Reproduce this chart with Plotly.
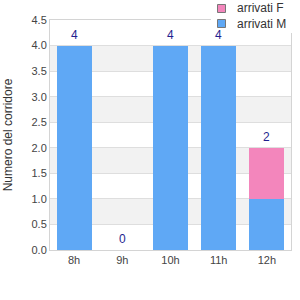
import plotly.graph_objects as go

categories = ["8h", "9h", "10h", "11h", "12h"]
arrivati_M = [4, 0, 4, 4, 1]
arrivati_F = [0, 0, 0, 0, 1]
totals = [m + f for m, f in zip(arrivati_M, arrivati_F)]
series_names = ["arrivati F", "arrivati M"]

blue = "#5fa8f5"
pink = "#f386bc"
series_colors = [pink, blue]
FONT = "Liberation Sans, Arial, sans-serif"

W, H = 300, 300
ML, MR, MT, MB = 50, 9, 20, 50
PW, PH = W - ML - MR, H - MT - MB


def px_x(p):
    return (p - ML) / PW


def px_y(p):
    return (H - MB - p) / PH


fig = go.Figure()
fig.add_trace(go.Bar(x=categories, y=arrivati_M, name="arrivati M", marker_color=blue,
                     marker_line_width=0, showlegend=False))
fig.add_trace(go.Bar(x=categories, y=arrivati_F, name="arrivati F", marker_color=pink,
                     marker_line_width=0, showlegend=False))

annotations = [dict(x=c, y=t, xref="x", yref="y", text=str(t), showarrow=False,
                    yanchor="bottom", yshift=2,
                    font=dict(family=FONT, size=12, color="#1f1f8f"))
               for c, t in zip(categories, totals)]

ymax = 4.5
step = 0.5
shapes = []
k = 0
v = 0.0
while v < ymax - 1e-9:
    if k % 2 == 1:
        shapes.append(dict(type="rect", xref="paper", yref="y", x0=0, x1=1, y0=v, y1=v + step,
                           fillcolor="#f2f2f2", line_width=0, layer="below"))
    v += step
    k += 1

# manual legend (white background box, swatches, labels)
shapes.append(dict(type="rect", xref="paper", yref="paper", x0=px_x(211), x1=px_x(300),
                   y0=px_y(33), y1=px_y(0), fillcolor="white", line_width=0, layer="above"))
for i, (name, col) in enumerate(zip(series_names, series_colors)):
    cy = 8.5 + 15 * i
    shapes.append(dict(type="rect", xref="paper", yref="paper", x0=px_x(217.5), x1=px_x(225.5),
                       y0=px_y(cy + 4), y1=px_y(cy - 4), fillcolor=col,
                       line=dict(color="#777", width=1), layer="above"))
    annotations.append(dict(x=px_x(235), y=px_y(cy), xref="paper", yref="paper", text=name,
                            showarrow=False, xanchor="left", yanchor="middle",
                            font=dict(family=FONT, size=12, color="#333")))

fig.update_layout(
    width=W, height=H,
    margin=dict(l=ML, r=MR, t=MT, b=MB, autoexpand=False),
    paper_bgcolor="white", plot_bgcolor="white",
    barmode="stack", bargap=0.27,
    showlegend=False,
    shapes=shapes,
    annotations=annotations,
    font=dict(family=FONT, size=11, color="#444"),
    xaxis=dict(showline=True, linecolor="#d4d4d4", mirror=True, showgrid=False,
               ticks="", tickfont=dict(size=11, color="#444")),
    yaxis=dict(range=[0, ymax], dtick=step, tickformat=".1f", showline=True,
               linecolor="#d4d4d4", mirror=True, gridcolor="#dedede", zeroline=False,
               title=dict(text="Numero del corridore", font=dict(size=12, color="#333"),
                          standoff=16),
               tickfont=dict(size=11, color="#444")),
)

fig.write_html("out.html")
